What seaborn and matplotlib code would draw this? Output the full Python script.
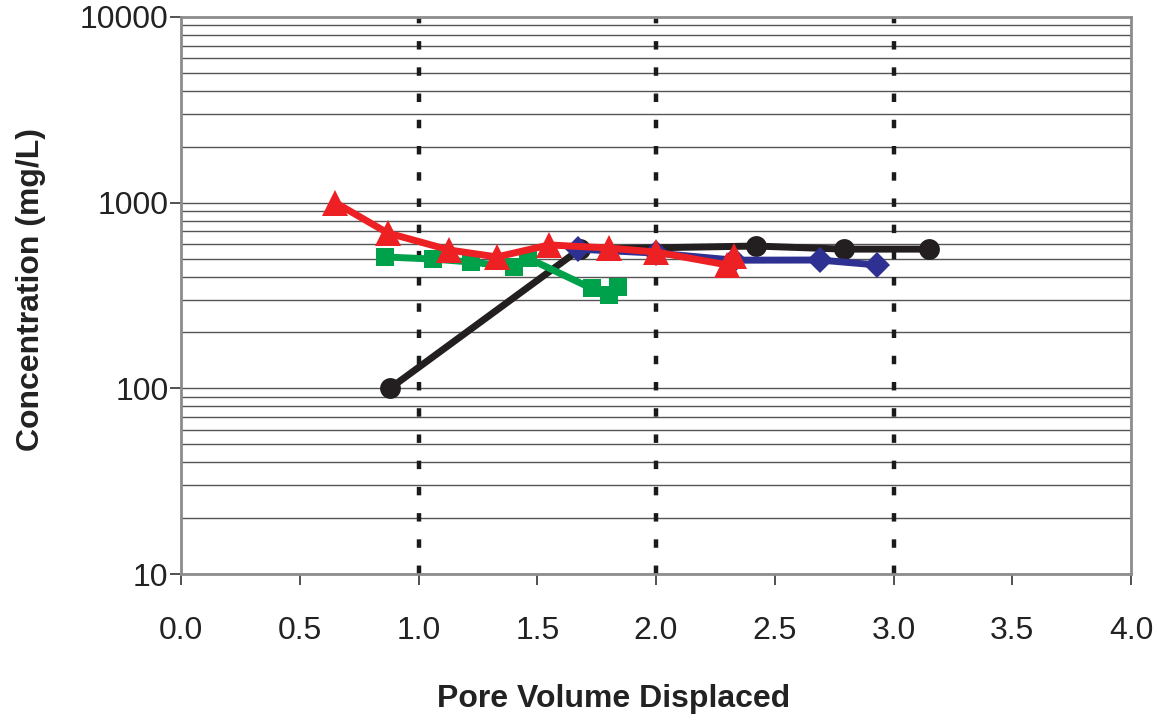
import numpy as np
import pandas as pd
import matplotlib
matplotlib.use("Agg")
import matplotlib.pyplot as plt
import matplotlib.ticker as mticker
import seaborn as sns

# Pore volume displaced vs. effluent concentration for four column runs
black_x = [0.88, 1.68, 2.42, 2.79, 3.15]
black_y = [100, 562, 584, 562, 562]

green_x = [0.86, 1.06, 1.22, 1.40, 1.46, 1.73, 1.80, 1.84]
green_y = [510, 497, 479, 450, 503, 345, 320, 352]

blue_x = [1.67, 2.00, 2.33, 2.69, 2.93]
blue_y = [562, 535, 490, 491, 462]

red_x = [0.65, 0.87, 1.13, 1.33, 1.55, 1.80, 2.00, 2.30, 2.33]
red_y = [1000, 687, 556, 510, 592, 570, 542, 462, 515]

x_ticks = [0.0, 0.5, 1.0, 1.5, 2.0, 2.5, 3.0, 3.5, 4.0]
y_ticks = [10, 100, 1000, 10000]
ref_lines = [1.0, 2.0, 3.0]

sns.set_theme(style="white")
plt.rcParams["font.family"] = ["Liberation Sans", "DejaVu Sans"]

fig = plt.figure(figsize=(11.64, 7.2), dpi=100)
ax = fig.add_axes([181 / 1164, 146 / 720, 950 / 1164, 557 / 720])

ax.set_yscale("log")
ax.set_xlim(0, 4)
ax.set_ylim(10, 10000)

# horizontal grid at every minor decade value
grid_vals = [m * 10 ** e for e in range(1, 4) for m in range(1, 10)]
for v in grid_vals:
    ax.axhline(v, color="#555555", lw=1.0, zorder=1)

for xv in ref_lines:
    ax.axvline(xv, color="#1a1a1a", lw=3.2, linestyle=(0, (1.9, 4.0)), zorder=2)

series = [
    (black_x, black_y, "#231F20", "o", 15, 3),
    (green_x, green_y, "#00A14B", "s", 12.5, 4),
    (blue_x, blue_y, "#2E3192", "D", 13, 5),
    (red_x, red_y, "#ED2024", "^", 19, 6),
]
for xs, ys, col, mk, ms, z in series:
    df = pd.DataFrame({"pv": xs, "conc": ys})
    sns.lineplot(data=df, x="pv", y="conc", ax=ax, color=col, lw=5.0,
                 marker=mk, markersize=ms, markeredgewidth=0,
                 estimator=None, sort=False, zorder=z)

ax.set_xticks(x_ticks)
ax.set_xticklabels([f"{t:.1f}" for t in x_ticks])
ax.yaxis.set_major_locator(mticker.FixedLocator(y_ticks))
ax.yaxis.set_major_formatter(mticker.FixedFormatter([str(t) for t in y_ticks]))
ax.yaxis.set_minor_locator(mticker.NullLocator())

ax.tick_params(axis="both", which="major", direction="out", length=8,
               width=1.2, color="#333333", labelsize=23, labelcolor="#222222",
               bottom=True, left=True)
ax.tick_params(axis="x", pad=22)
ax.tick_params(axis="y", pad=1)

for sp in ax.spines.values():
    sp.set_visible(True)
    sp.set_color("#8c8c8c")
    sp.set_linewidth(2.0)
    sp.set_zorder(7)

ax.set_xlabel("Pore Volume Displaced", fontsize=23, fontweight="bold",
              color="#222222")
ax.xaxis.set_label_coords(0.455, -0.197)
ax.set_ylabel("Concentration (mg/L)", fontsize=23, fontweight="bold",
              color="#222222")
ax.yaxis.set_label_coords(-0.142, 0.51)
ax.grid(False)

fig.savefig("out.png", dpi=100, facecolor="white")
